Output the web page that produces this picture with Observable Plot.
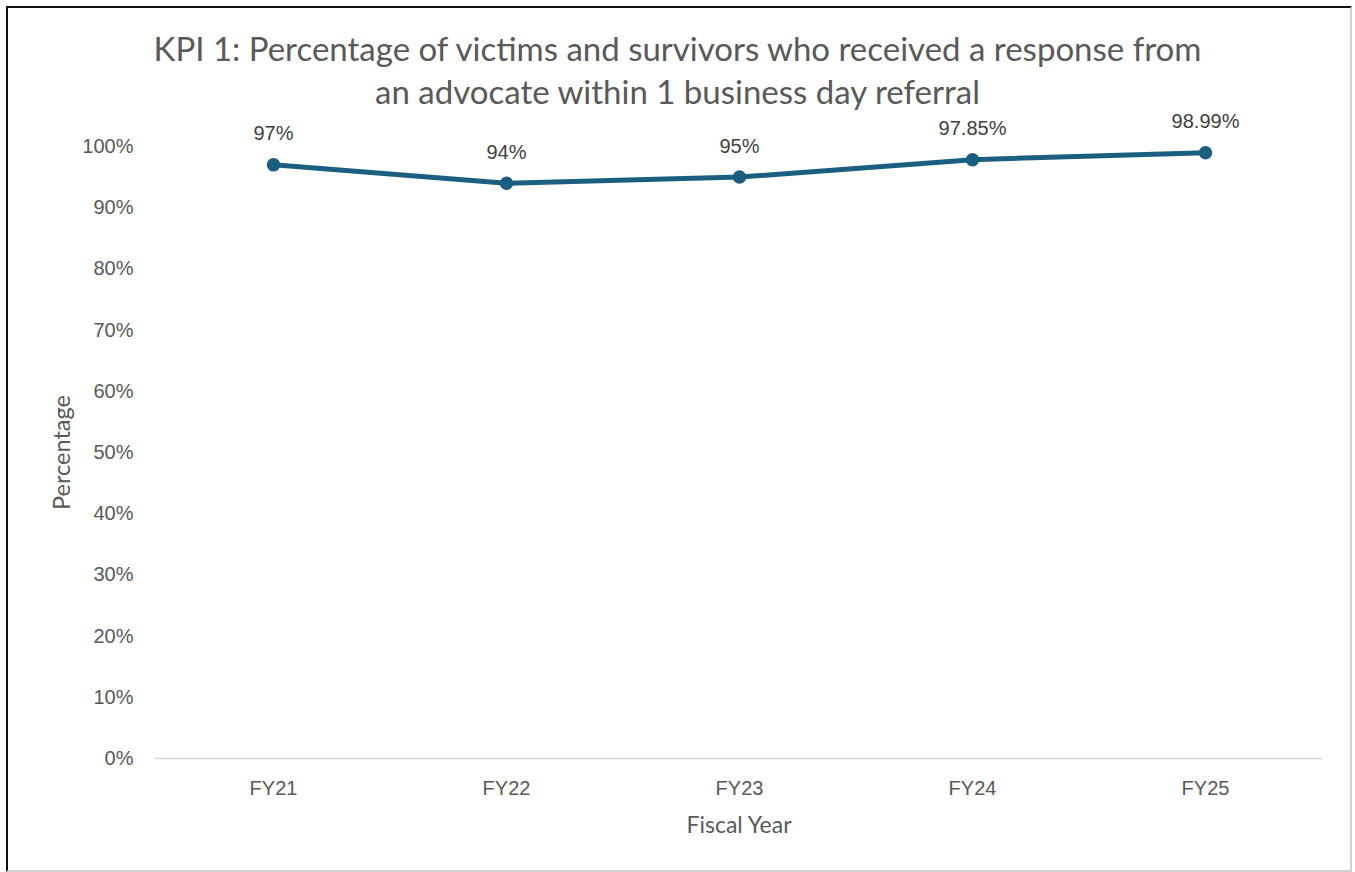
<!DOCTYPE html>
<html>
<head>
<meta charset="utf-8">
<script src="https://cdn.jsdelivr.net/npm/d3@7"></script>
<script src="https://cdn.jsdelivr.net/npm/@observablehq/plot@0.6"></script>
<style>
  html, body { margin: 0; padding: 0; background: #fff; }
  #frame {
    position: absolute; left: 6px; top: 6px; width: 1342px; height: 862px;
    border-left: 2px solid #111; border-top: 2px solid #111;
    border-right: 2px solid #cfcfcf; border-bottom: 2px solid #cfcfcf;
    box-sizing: content-box;
  }
  #wrap { position: absolute; left: 0; top: 0; width: 1355px; height: 872px; }
  #title {
    height: 108px; box-sizing: border-box; padding-top: 27px;
    text-align: center; font-family: Lato, "Open Sans", sans-serif;
    font-size: 33px; line-height: 43px; color: #595959;
  }
  #chart svg { display: block; overflow: visible; }
</style>
</head>
<body>
<div id="frame"></div>
<div id="wrap">
  <div id="title">KPI 1: Percentage of victims and survivors who received a response from<br>an advocate within 1 business day referral</div>
  <div id="chart"></div>
</div>
<script>
// Fiscal years and share of victims/survivors contacted within 1 business day
const years = ["FY21", "FY22", "FY23", "FY24", "FY25"];
const values = [97, 94, 95, 97.85, 98.99];
const valueLabels = ["97%", "94%", "95%", "97.85%", "98.99%"];
const yTicks = [0, 10, 20, 30, 40, 50, 60, 70, 80, 90, 100];

const data = years.map((year, i) => ({year, value: values[i], label: valueLabels[i]}));

const lineColor = "#1b5f80";
const tickFont = "Liberation Sans, Arial, sans-serif";
const titleFont = "Lato, 'Open Sans', sans-serif";

const chart = Plot.plot({
  width: 1355,
  height: 764,
  marginLeft: 155,
  marginRight: 33,
  marginTop: 38,
  marginBottom: 114,
  style: {background: "transparent", fontFamily: tickFont, fontSize: "20px", color: "#595959"},
  x: {type: "point", domain: years, padding: 0.5, label: null},
  y: {domain: [0, 100], label: null},
  marks: [
    Plot.ruleY([0], {stroke: "#d9d9d9", strokeWidth: 1.5}),
    Plot.axisY({ticks: yTicks, tickSize: 0, tickPadding: 22, tickFormat: d => d + "%", fontSize: 20, fill: "#595959"}),
    Plot.axisX({tickSize: 0, tickPadding: 22, fontSize: 20, fill: "#595959"}),
    Plot.line(data, {x: "year", y: "value", stroke: lineColor, strokeWidth: 5, strokeLinejoin: "round", strokeLinecap: "round"}),
    Plot.dot(data, {x: "year", y: "value", r: 6, fill: lineColor, stroke: lineColor}),
    Plot.text(data, {x: "year", y: "value", text: "label", dy: -31, fontSize: 20, fill: "#404040", fontFamily: tickFont}),
    Plot.text(["Percentage"], {frameAnchor: "left", textAnchor: "middle", dx: -93, rotate: -90, fontSize: 23.5, fill: "#595959", fontFamily: titleFont}),
    Plot.text(["Fiscal Year"], {frameAnchor: "bottom", textAnchor: "middle", dy: 74, fontSize: 23, fill: "#595959", fontFamily: titleFont})
  ]
});

document.getElementById("chart").appendChild(chart);
</script>
</body>
</html>
